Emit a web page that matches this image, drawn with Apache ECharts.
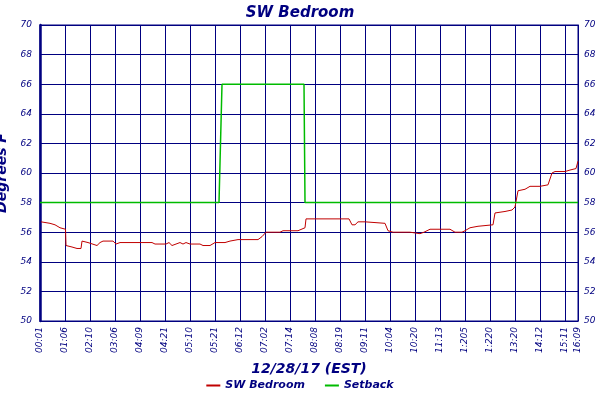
<!DOCTYPE html><html><head><meta charset="utf-8"><script src="https://cdn.jsdelivr.net/npm/echarts@6/dist/echarts.min.js"></script></head><body style="margin:0;background:#fff"><div id="c" style="width:600px;height:400px"></div><script>
var tickLabels=['00:01','01:06','02:10','03:06','04:09','04:21','05:10','05:21','06:12','07:02','07:14','08:08','08:19','09:11','10:04','10:20','11:13','1:205','1:220','13:20','14:12','15:11','16:09'];
var tickPos=[0,1,2,3,4,5,6,7,8,9,10,11,12,13,14,15,16,17,18,19,20,21,21.52];
var bedroom=[[0.04,56.7],[0.4,56.6],[0.6,56.5],[0.8,56.3],[0.88,56.2],[1.02,56.2],[1.04,55.1],[1.28,55.0],[1.48,54.9],[1.64,54.9],[1.68,55.4],[1.92,55.3],[2.28,55.1],[2.4,55.3],[2.52,55.4],[2.92,55.4],[3.04,55.2],[3.2,55.3],[3.52,55.3],[3.6,55.2],[3.8,55.3],[4.48,55.3],[4.6,55.2],[5.04,55.2],[5.16,55.3],[5.28,55.1],[5.44,55.2],[5.6,55.3],[5.72,55.2],[5.84,55.3],[6.0,55.2],[6.4,55.2],[6.52,55.1],[6.8,55.1],[6.88,55.2],[7.0,55.3],[7.4,55.3],[7.6,55.4],[7.92,55.5],[8.72,55.5],[8.88,55.7],[8.96,55.8],[9.04,56.0],[9.6,56.0],[9.72,56.1],[10.32,56.1],[10.4,56.2],[10.6,56.3],[10.64,56.9],[12.36,56.9],[12.48,56.5],[12.6,56.5],[12.72,56.7],[13.0,56.7],[13.08,56.6],[13.8,56.6],[13.92,56.1],[14.12,56.0],[14.8,56.0],[14.88,55.9],[15.2,55.9],[15.36,56.0],[15.6,56.2],[16.4,56.2],[16.6,56.0],[16.88,56.0],[17.0,56.1],[17.2,56.3],[17.52,56.4],[18.12,56.5],[18.2,57.3],[18.6,57.4],[18.88,57.5],[19.0,57.7],[19.12,58.8],[19.4,58.9],[19.6,59.1],[20.0,59.1],[20.08,59.2],[20.32,59.2],[20.4,59.3],[20.48,60.0],[20.6,60.1],[21.0,60.1],[21.2,60.2],[21.44,60.3],[21.52,60.8]];
var setback=[[0,58],[7.16,58],[7.28,66],[10.56,66],[10.6,58],[21.52,58]];
var navy='#000080';
var c=echarts.init(document.getElementById('c'));
var lab={color:navy,fontStyle:'italic',fontFamily:'DejaVu Sans',fontSize:9};
c.setOption({animation:false,backgroundColor:'#fff',
title:{text:'SW Bedroom',left:'center',top:1,textStyle:{color:navy,fontStyle:'italic',fontWeight:'bold',fontFamily:'DejaVu Sans',fontSize:15}},
grid:{left:40,right:22,top:25,bottom:79,containLabel:false,outerBoundsMode:'none',show:true,borderColor:navy,borderWidth:1},
legend:{bottom:4,left:'center',itemWidth:14,itemHeight:2,itemGap:20,icon:'rect',textStyle:{color:navy,fontStyle:'italic',fontWeight:'bold',fontFamily:'DejaVu Sans',fontSize:11},data:['SW Bedroom','Setback']},
xAxis:{type:'value',min:0,max:21.52,interval:1,name:'12/28/17 (EST)',nameLocation:'middle',nameGap:41,nameTextStyle:{color:navy,fontStyle:'italic',fontWeight:'bold',fontFamily:'DejaVu Sans',fontSize:14},
axisLine:{lineStyle:{color:navy,width:1}},axisTick:{show:false},
splitLine:{show:true,lineStyle:{color:navy,width:1}},
axisLabel:Object.assign({rotate:90,margin:6,customValues:tickPos,formatter:function(v){var i=tickPos.indexOf(v);return i>=0?tickLabels[i]:'';}},lab)},
yAxis:[{type:'value',min:50,max:70,interval:2,name:'Degrees F',nameLocation:'middle',nameGap:26,nameTextStyle:{color:navy,fontStyle:'italic',fontWeight:'bold',fontFamily:'DejaVu Sans',fontSize:14},
axisLine:{show:true,lineStyle:{color:navy,width:2.5}},axisTick:{show:false},splitLine:{lineStyle:{color:navy,width:1}},axisLabel:Object.assign({margin:8},lab)},
{type:'value',min:50,max:70,interval:2,position:'right',axisLine:{show:true,lineStyle:{color:navy}},axisTick:{show:false},splitLine:{show:false},axisLabel:Object.assign({margin:6},lab)}],
series:[{name:'SW Bedroom',type:'line',data:bedroom,showSymbol:false,lineStyle:{color:'#c00000',width:1},itemStyle:{color:'#c00000'},z:3},
{name:'Setback',type:'line',data:setback,showSymbol:false,lineStyle:{color:'#00bb00',width:1.5},itemStyle:{color:'#00bb00'},z:4}]});
</script></body></html>
